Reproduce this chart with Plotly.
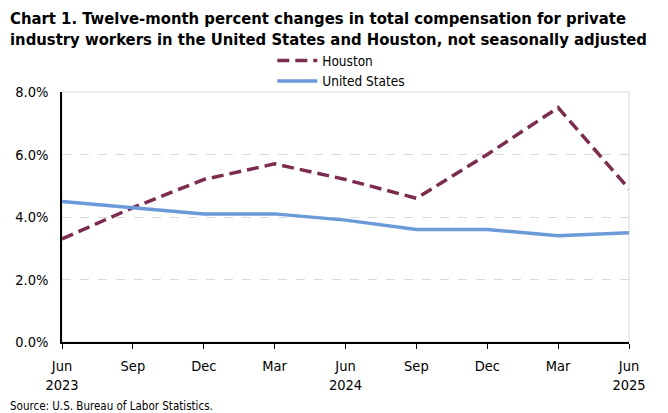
import plotly.graph_objects as go

months = ["Jun<br>2023", "Sep", "Dec", "Mar", "Jun<br>2024", "Sep", "Dec", "Mar", "Jun<br>2025"]
houston = [3.3, 4.3, 5.2, 5.7, 5.2, 4.6, 6.0, 7.5, 4.9]
united_states = [4.5, 4.3, 4.1, 4.1, 3.9, 3.6, 3.6, 3.4, 3.5]
y_ticks = [0, 2, 4, 6, 8]

font_family = "DejaVu Sans Condensed, Roboto, sans-serif"

# page body has an 8px margin, so the figure is drawn 8px smaller
W, H = 660, 405
ml, mr, mt, mb = 54, 39, 84, 71
plot_h = H - mt - mb
plot_w = W - ml - mr

xs = list(range(len(months)))

fig = go.Figure()
fig.add_trace(go.Scatter(x=xs, y=houston, name="Houston", mode="lines",
                         line=dict(color="#7B2C4F", width=3.5, dash="12px,6px")))
fig.add_trace(go.Scatter(x=xs, y=united_states, name="United States", mode="lines",
                         line=dict(color="#6A9BD8", width=3.5)))

# light frame on top and right side
fig.add_shape(type="rect", xref="paper", yref="paper", x0=0, y0=0, x1=1, y1=1,
              line=dict(color="#D9D9D9", width=1), layer="below")

fig.update_xaxes(
    tickvals=xs,
    ticktext=months,
    range=[0, len(months) - 1],
    showline=True,
    linecolor="black",
    linewidth=1.5,
    ticks="outside",
    ticklen=5,
    tickcolor="black",
    ticklabelstandoff=5,
    showgrid=False,
    zeroline=False,
    automargin=False,
)
fig.update_yaxes(
    range=[0, 8],
    tickvals=y_ticks,
    ticktext=["{:.1f}%".format(v) for v in y_ticks],
    showline=True,
    linecolor="black",
    linewidth=1.5,
    showgrid=True,
    gridcolor="#D9D9D9",
    griddash="dash",
    zeroline=False,
    ticks="",
    ticklabelstandoff=9,
    automargin=False,
)

left_edge = -ml / plot_w

fig.update_layout(
    width=W,
    height=H,
    plot_bgcolor="white",
    paper_bgcolor="white",
    margin=dict(l=ml, r=mr, t=mt, b=mb, autoexpand=False),
    font=dict(family=font_family, size=14.5, color="black"),
    legend=dict(
        x=0.505, xanchor="center", xref="container",
        y=0.908, yanchor="top", yref="container",
        orientation="v",
        bgcolor="rgba(0,0,0,0)",
        font=dict(size=13.5),
        tracegroupgap=0,
        itemwidth=40,
    ),
    annotations=[
        dict(
            text="<b>Chart 1. Twelve-month percent changes in total compensation for private<br>"
                 "industry workers in the United States and Houston, not seasonally adjusted</b>",
            xref="paper", yref="paper", x=left_edge, y=(mt + plot_h - 20.5) / plot_h,
            xanchor="left", yanchor="middle", align="left", showarrow=False,
            font=dict(size=16.5),
        ),
        dict(
            text="Source: U.S. Bureau of Labor Statistics.",
            xref="paper", yref="paper", x=left_edge, y=-64 / plot_h,
            xanchor="left", yanchor="middle", showarrow=False,
            font=dict(size=11.5),
        ),
    ],
)

fig.write_html("out.html")
